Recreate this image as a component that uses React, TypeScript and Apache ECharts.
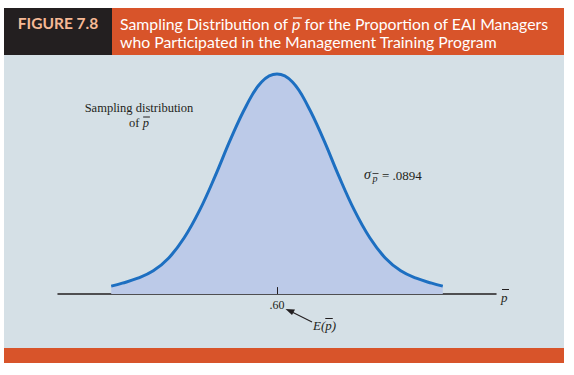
import React, { useEffect, useRef } from "react";
import * as echarts from "echarts";

const pValues = [0.332, 0.35, 0.375, 0.4, 0.425, 0.45, 0.475, 0.5, 0.525, 0.55, 0.575, 0.6, 0.625, 0.65, 0.675, 0.7, 0.725, 0.75, 0.775, 0.8, 0.825, 0.85, 0.868];
const density = [0.16, 0.22, 0.32, 0.47, 0.73, 1.14, 1.7, 2.39, 3.14, 3.81, 4.3, 4.46, 4.3, 3.81, 3.14, 2.39, 1.7, 1.14, 0.73, 0.47, 0.32, 0.22, 0.16];
const tickValues = [0.6];
const tickLabels = [".60"];
const tickHeight = 0.14;
const figureLabel = "FIGURE 7.8";
const titleLine1a = "Sampling Distribution of ";
const titleLine1p = "p";
const titleLine1b = " for the Proportion of EAI Managers";
const titleLine2 = "who Participated in the Management Training Program";
const sigmaText = "= .0894";

const SERIF = "'Liberation Serif', 'DejaVu Serif', serif";
const SANS = "Lato, 'Noto Sans', sans-serif";

function measure(text: string, font: string): number {
  const c = document.createElement("canvas").getContext("2d");
  if (!c) return text.length * 7;
  c.font = font;
  return c.measureText(text).width;
}

export default function App() {
  const ref = useRef<HTMLDivElement>(null);
  useEffect(() => {
    if (!ref.current) return;
    const chart = echarts.init(ref.current, null, { renderer: "svg" });

    const titleFont = `15.8px ${SANS}`;
    const titleItFont = `italic 15.8px ${SANS}`;
    const tx = 120;
    const w1a = measure(titleLine1a, titleFont);
    const wp = measure(titleLine1p, titleItFont);

    const serifIt13 = `italic 13px ${SERIF}`;
    const wE = measure("E(", serifIt13);
    const wEp = measure("p", serifIt13);

    const ofFont = `12.5px ${SERIF}`;
    const wOf = measure("of ", ofFont);
    const wOfP = measure("p", `italic 12.5px ${SERIF}`);
    const ofX = 139 - (wOf + wOfP) / 2;

    const dark = "#231f20";
    const orange = "#d8542a";

    const graphic: any[] = [
      { type: "rect", z: -10, silent: true, shape: { x: 4, y: 55, width: 560, height: 293 }, style: { fill: "#d5e0e6" } },
      { type: "rect", z: -10, silent: true, shape: { x: 4, y: 348, width: 560, height: 15 }, style: { fill: orange } },
      { type: "rect", z: -10, silent: true, shape: { x: 4, y: 8, width: 108, height: 47 }, style: { fill: dark } },
      { type: "rect", z: -10, silent: true, shape: { x: 112, y: 8, width: 452, height: 47 }, style: { fill: orange } },
      { type: "text", x: 58, y: 23, style: { text: figureLabel, fill: "#f6b995", font: `bold 15.5px ${SANS}`, align: "center", verticalAlign: "middle" } },
      { type: "text", x: tx, y: 23, style: { text: titleLine1a, fill: "#ffffff", font: titleFont, verticalAlign: "middle" } },
      { type: "text", x: tx + w1a, y: 23, style: { text: titleLine1p, fill: "#ffffff", font: titleItFont, verticalAlign: "middle" } },
      { type: "line", shape: { x1: tx + w1a + 1, y1: 18, x2: tx + w1a + wp + 1.5, y2: 18 }, style: { stroke: "#ffffff", lineWidth: 1.2 } },
      { type: "text", x: tx + w1a + wp, y: 23, style: { text: titleLine1b, fill: "#ffffff", font: titleFont, verticalAlign: "middle" } },
      { type: "text", x: tx, y: 41, style: { text: titleLine2, fill: "#ffffff", font: titleFont, verticalAlign: "middle" } },
      // sampling distribution label
      { type: "text", x: 139, y: 108, style: { text: "Sampling distribution", fill: dark, font: `12.5px ${SERIF}`, align: "center", verticalAlign: "middle" } },
      { type: "text", x: ofX, y: 123, style: { text: "of", fill: dark, font: ofFont, verticalAlign: "middle" } },
      { type: "text", x: ofX + wOf, y: 123, style: { text: "p", fill: dark, font: `italic 12.5px ${SERIF}`, verticalAlign: "middle" } },
      { type: "line", shape: { x1: ofX + wOf + 0.5, y1: 117, x2: ofX + wOf + wOfP + 1, y2: 117 }, style: { stroke: dark, lineWidth: 1 } },
      // sigma label
      { type: "text", x: 364, y: 174, style: { text: "σ", fill: dark, font: `italic 14px ${SERIF}`, verticalAlign: "middle" } },
      { type: "text", x: 372.5, y: 178.5, style: { text: "p", fill: dark, font: `italic 10px ${SERIF}`, verticalAlign: "middle" } },
      { type: "line", shape: { x1: 372.5, y1: 173.5, x2: 378.5, y2: 173.5 }, style: { stroke: dark, lineWidth: 0.8 } },
      { type: "text", x: 382, y: 175, style: { text: sigmaText, fill: dark, font: `13px ${SERIF}`, verticalAlign: "middle" } },
      // p-bar axis name
      { type: "text", x: 501, y: 297, style: { text: "p", fill: dark, font: `italic 13px ${SERIF}`, verticalAlign: "middle" } },
      { type: "line", shape: { x1: 502, y1: 289.5, x2: 509, y2: 289.5 }, style: { stroke: dark, lineWidth: 1 } },
      // E(p) label
      { type: "text", x: 313, y: 325, style: { text: "E(", fill: dark, font: serifIt13, verticalAlign: "middle" } },
      { type: "text", x: 313 + wE, y: 325, style: { text: "p", fill: dark, font: serifIt13, verticalAlign: "middle" } },
      { type: "line", shape: { x1: 313 + wE, y1: 318.5, x2: 313 + wE + wEp + 1, y2: 318.5 }, style: { stroke: dark, lineWidth: 1 } },
      { type: "text", x: 313 + wE + wEp, y: 325, style: { text: ")", fill: dark, font: serifIt13, verticalAlign: "middle" } },
      // arrow
      { type: "line", shape: { x1: 312, y1: 322, x2: 292, y2: 312 }, style: { stroke: dark, lineWidth: 1.2 } },
      { type: "polygon", shape: { points: [[285.5, 309], [295, 309.5], [292, 315]] }, style: { fill: dark } },
    ];

    chart.setOption({
      animation: false,
      backgroundColor: "#ffffff",
      grid: { left: 58, right: 78, top: 47.5, bottom: 81, containLabel: false },
      xAxis: {
        type: "value",
        min: 0.246,
        max: 0.954,
        axisLine: { show: true, lineStyle: { color: dark, width: 1.5 } },
        axisTick: { show: false },
        axisLabel: {
          show: true,
          customValues: tickValues,
          margin: 5,
          formatter: (v: number) => {
            const i = tickValues.findIndex((t) => Math.abs(t - v) < 1e-9);
            return i >= 0 ? tickLabels[i] : "";
          },
          fontFamily: SERIF,
          fontSize: 12,
          color: dark,
        },
        splitLine: { show: false },
      },
      yAxis: { type: "value", min: 0, max: 5, show: false },
      series: [
        {
          type: "line",
          data: pValues.map((p, i) => [p, density[i]]),
          smooth: 0.4,
          symbol: "none",
          lineStyle: { color: "#1d6fc1", width: 3 },
          areaStyle: { color: "#bccae8", opacity: 1 },
          z: 3,
          markLine: {
            silent: true,
            symbol: "none",
            label: { show: false },
            lineStyle: { color: dark, width: 1, type: "solid" },
            data: tickValues.map((t) => [{ coord: [t, 0] }, { coord: [t, tickHeight] }]),
          },
        },
      ],
      graphic,
    });
    return () => chart.dispose();
  }, []);
  return <div ref={ref} style={{ position: "fixed", left: 0, top: 0, width: 574, height: 375 }} />;
}
